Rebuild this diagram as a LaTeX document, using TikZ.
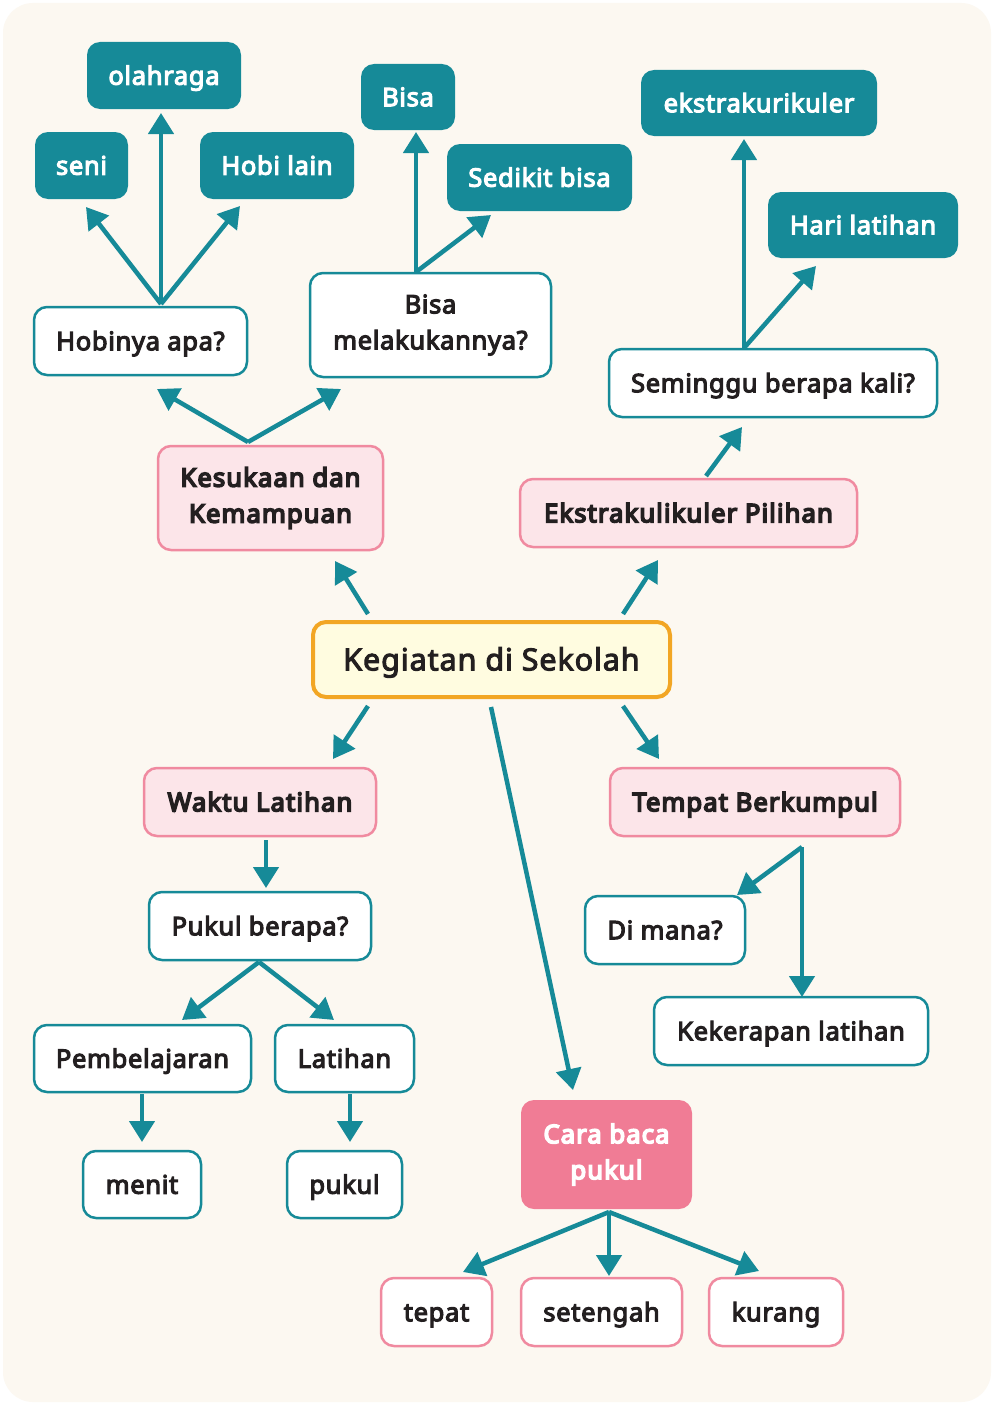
\documentclass[tikz,border=0pt]{standalone}
\usepackage{fontspec}
\setmainfont{Noto Sans}
\usetikzlibrary{arrows.meta}
\definecolor{cream}{HTML}{FCF8F1}
\definecolor{teal}{HTML}{168A98}
\definecolor{pinkline}{HTML}{F08AA0}
\definecolor{pinkfill}{HTML}{FCE5E9}
\definecolor{pinkdark}{HTML}{F07C95}
\definecolor{orangeline}{HTML}{F2A624}
\definecolor{yellowfill}{HTML}{FFFCE0}
\definecolor{ink}{HTML}{231F20}
\tikzset{
  heavy/.style={execute at begin node={\special{pdf:literal direct 2 Tr #1 w}},
                execute at end node={\special{pdf:literal direct 0 Tr}}},
  base/.style={rounded corners=13pt, inner sep=0pt, align=center, text height=24pt, text depth=5.6pt, font=\fontsize{25.5}{36}\selectfont\addfontfeatures{LetterSpace=2.7}},
  multi/.style={text height=, text depth=},
  tbox/.style={base, fill=teal, text=white, heavy=1.1},
  wbox/.style={base, fill=white, draw=teal, line width=2.5pt, text=ink, heavy=1.1},
  pbox/.style={base, fill=pinkfill, draw=pinkline, line width=2.5pt, text=ink, heavy=1.6, font=\fontsize{25.5}{36}\selectfont\addfontfeatures{LetterSpace=4.5}},
  pwbox/.style={base, fill=white, draw=pinkline, line width=2.5pt, text=ink, heavy=1.1},
  cbox/.style={base, fill=pinkdark, text=white, heavy=1.6, font=\fontsize{25.5}{36}\selectfont\addfontfeatures{LetterSpace=4.5}},
  mainbox/.style={base, fill=yellowfill, draw=orangeline, line width=4pt, text=ink, text height=28pt, text depth=6.2pt, font=\fontsize{30.5}{36}\selectfont\addfontfeatures{LetterSpace=3}, heavy=1.0},
  arr/.style={draw=teal, line width=4.5pt, -{Triangle[length=21pt,width=25pt]}},
  sz/.style 2 args={minimum width=#1pt, minimum height=#2pt}
}
\begin{document}
\begin{tikzpicture}[x=1pt,y=-1pt]
\useasboundingbox (0,0) rectangle (994,1405);
\fill[white] (0,0) rectangle (994,1405);
\fill[cream, rounded corners=30pt] (3,3) rectangle (991,1402);

% nodes
\node[tbox, sz={154}{67}] (olah) at (164,75.5) {olahraga};
\node[tbox, sz={93}{67}] (seni) at (81.5,165.5) {seni};
\node[tbox, sz={154}{67}] (hobi) at (277,165.5) {Hobi lain};
\node[wbox, sz={213}{68}] (hobinya) at (140.5,341) {Hobinya apa?};
\node[tbox, sz={94}{66}] (bisa) at (408,97) {Bisa};
\node[tbox, sz={185}{67}] (sedikit) at (539.5,177.5) {Sedikit bisa};
\node[wbox, multi, sz={241}{104}] (bisamel) at (430.5,325) {Bisa\\melakukannya?};
\node[tbox, sz={236}{66}] (ekstra) at (759,103) {ekstrakurikuler};
\node[tbox, sz={190}{66}] (hari) at (863,225) {Hari latihan};
\node[wbox, sz={328}{68}] (seminggu) at (773,383) {Seminggu berapa kali?};
\node[pbox, multi, sz={225}{104}] (kesukaan) at (270.5,498) {Kesukaan dan\\Kemampuan};
\node[pbox, sz={337}{68}] (ekspil) at (688.5,513) {Ekstrakulikuler Pilihan};
\node[mainbox, sz={357}{75}] (main) at (491.5,659.5) {Kegiatan di Sekolah};
\node[pbox, sz={232}{68}] (waktu) at (260,802) {Waktu Latihan};
\node[pbox, sz={290}{68}] (tempat) at (755,802) {Tempat Berkumpul};
\node[wbox, sz={222}{68}] (pukulb) at (260,926) {Pukul berapa?};
\node[wbox, sz={160}{68}] (dimana) at (665,930) {Di mana?};
\node[wbox, sz={274}{68}] (kekerapan) at (791,1031) {Kekerapan latihan};
\node[wbox, sz={217}{67}] (pemb) at (142.5,1058.5) {Pembelajaran};
\node[wbox, sz={139}{67}] (latihan) at (344.5,1058.5) {Latihan};
\node[wbox, sz={118}{67}] (menit) at (142,1184.5) {menit};
\node[wbox, sz={115}{67}] (pukul) at (344.5,1184.5) {pukul};
\node[cbox, multi, sz={171}{109}] (cara) at (606.5,1154.5) {Cara baca\\pukul};
\node[pwbox, sz={111}{68}] (tepat) at (436.5,1312) {tepat};
\node[pwbox, sz={161}{68}] (setengah) at (601.5,1312) {setengah};
\node[pwbox, sz={134}{68}] (kurang) at (776,1312) {kurang};

% connector coordinates
\coordinate (hobS) at (161,304);
\coordinate (seniE) at (86,207);
\coordinate (olahE) at (161,113);
\coordinate (hobiE) at (240,206);
\coordinate (bmS) at (416,272);
\coordinate (bisaE) at (416,132);
\coordinate (sedE) at (491,215);
\coordinate (kesS) at (248,442);
\coordinate (hobinyaE) at (157,389);
\coordinate (bmE) at (341,389);
\coordinate (semS) at (744,348);
\coordinate (ekstraE) at (744,139);
\coordinate (hariE) at (816,266);
\coordinate (epS) at (706,476);
\coordinate (semE) at (742,427);
\coordinate (mKesS) at (368,614);
\coordinate (kesE) at (335,561);
\coordinate (mEpS) at (623,614);
\coordinate (epE) at (658,560);
\coordinate (mWS) at (368,706);
\coordinate (waktuE) at (333,759);
\coordinate (mTS) at (623,706);
\coordinate (tempatE) at (659,759);
\coordinate (mCS) at (491,707);
\coordinate (caraE) at (573,1090);
\coordinate (wS) at (266,840);
\coordinate (pbE) at (266,888);
\coordinate (pbS) at (259,962);
\coordinate (pembE) at (182,1020);
\coordinate (latE) at (334,1020);
\coordinate (pembS) at (142,1094);
\coordinate (menitE) at (142,1142);
\coordinate (latS) at (350,1094);
\coordinate (pukulE) at (350,1142);
\coordinate (tS) at (802,847);
\coordinate (dimanaE) at (737,895);
\coordinate (kekE) at (802,997);
\coordinate (cS) at (609,1212);
\coordinate (tepatE) at (463,1272);
\coordinate (setE) at (609,1276);
\coordinate (kurE) at (759,1271);

% connectors
\draw[arr] (hobS) -- (seniE);
\draw[arr] (hobS) -- (olahE);
\draw[arr] (hobS) -- (hobiE);
\draw[arr] (bmS) -- (bisaE);
\draw[arr] (bmS) -- (sedE);
\draw[arr] (kesS) -- (hobinyaE);
\draw[arr] (kesS) -- (bmE);
\draw[arr] (semS) -- (ekstraE);
\draw[arr] (semS) -- (hariE);
\draw[arr] (epS) -- (semE);
\draw[arr] (mKesS) -- (kesE);
\draw[arr] (mEpS) -- (epE);
\draw[arr] (mWS) -- (waktuE);
\draw[arr] (mTS) -- (tempatE);
\draw[arr] (mCS) -- (caraE);
\draw[arr] (wS) -- (pbE);
\draw[arr] (pbS) -- (pembE);
\draw[arr] (pbS) -- (latE);
\draw[arr] (pembS) -- (menitE);
\draw[arr] (latS) -- (pukulE);
\draw[arr] (tS) -- (dimanaE);
\draw[arr] (tS) -- (kekE);
\draw[arr] (cS) -- (tepatE);
\draw[arr] (cS) -- (setE);
\draw[arr] (cS) -- (kurE);
\end{tikzpicture}
\end{document}
